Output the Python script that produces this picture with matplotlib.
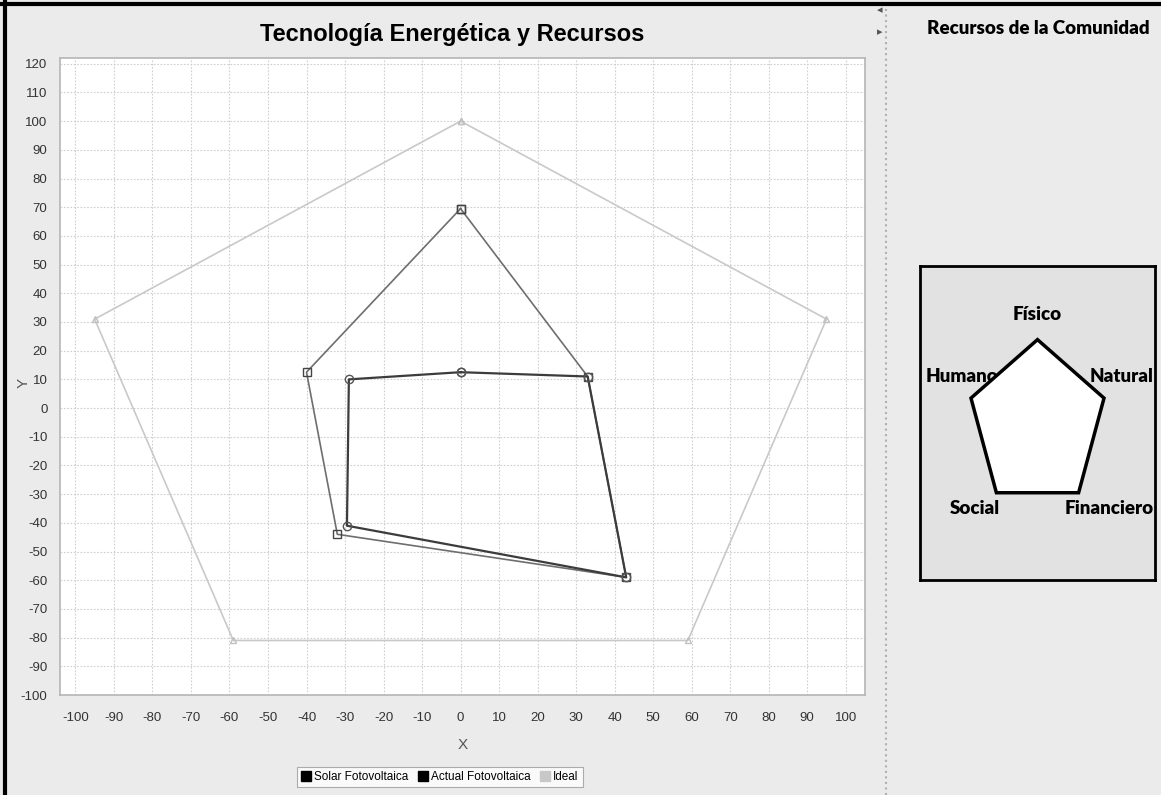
import numpy as np
import matplotlib
matplotlib.use("Agg")
import matplotlib.pyplot as plt
from matplotlib.lines import Line2D
from matplotlib.patches import Polygon

plt.rcParams['font.family'] = ['Liberation Sans', 'DejaVu Sans']
plt.rcParams['axes.unicode_minus'] = False

# series data (X, Y) - polygons closed by repeating the first point
solar_x = [0, 33, 43, -32, -40, 0]
solar_y = [69.5, 11, -59, -44, 12.5, 69.5]

actual_x = [0, 33, 43, -29.5, -29, 0]
actual_y = [12.5, 11, -59, -41, 10, 12.5]

ideal_x = [0, 95, 59, -59, -95, 0]
ideal_y = [100, 31, -81, -81, 31, 100]

series_names = ['Solar Fotovoltaica', 'Actual Fotovoltaica', 'Ideal']

# right panel diagram
recursos = ['Físico', 'Natural', 'Financiero', 'Social', 'Humano']

x_ticks = list(range(-100, 101, 10))
y_ticks = list(range(-100, 121, 10))

bg = '#ebebeb'
fig = plt.figure(figsize=(11.61, 7.95), dpi=100, facecolor=bg)

# main chart
ax = fig.add_axes([60 / 1161, 1 - 695 / 795, 805 / 1161, 637 / 795])
ax.set_facecolor('white')
ax.plot(ideal_x, ideal_y, color='#c9c9c9', lw=1.2, marker='^', ms=5,
        mfc='none', mec='#c0c0c0', label=series_names[2], zorder=2)
ax.plot(solar_x, solar_y, color='#6e6e6e', lw=1.2, marker='s', ms=6,
        mfc='none', mec='#444444', label=series_names[0], zorder=3)
ax.plot(actual_x, actual_y, color='#3c3c3c', lw=1.6, marker='o', ms=6,
        mfc='none', mec='#555555', label=series_names[1], zorder=4)

ax.set_xlim(-104, 105)
ax.set_ylim(-100, 122)
ax.set_xticks(x_ticks)
ax.set_yticks(y_ticks)
ax.grid(True, color='#cfcfcf', ls=(0, (1.5, 1.5)), lw=0.8)
ax.set_axisbelow(True)
ax.tick_params(length=0, labelsize=9.5, labelcolor='#333333', pad=9)
ax.tick_params(axis='x', pad=12)
for s in ax.spines.values():
    s.set_color('#b5b5b5')
    s.set_linewidth(1.2)
ax.set_xlabel('X', fontsize=11, color='#555555', labelpad=10)
ax.set_ylabel('Y', fontsize=11, color='#555555')
ax.yaxis.set_label_coords(-0.036, 0.49)

fig.text(452 / 1161, 1 - 35 / 795, 'Tecnología Energética y Recursos',
         ha='center', va='center', fontsize=17, fontweight='bold')

handles = [Line2D([], [], ls='none', marker='s', ms=7, color='black'),
           Line2D([], [], ls='none', marker='s', ms=7, color='black'),
           Line2D([], [], ls='none', marker='s', ms=7, color='#c8c8c8')]
leg = fig.legend(handles, series_names, loc='center', bbox_to_anchor=(440 / 1161, 1 - 777 / 795),
                 ncol=3, fontsize=8.5, frameon=True, handlelength=0.8, handletextpad=0.3,
                 columnspacing=0.8, borderpad=0.35, fancybox=False)
leg.get_frame().set_edgecolor('#999999')
leg.get_frame().set_linewidth(0.8)

# window borders and divider
fig.add_artist(Line2D([0, 1], [1 - 4 / 795] * 2, color='black', lw=3, transform=fig.transFigure))
fig.add_artist(Line2D([5 / 1161] * 2, [0, 1], color='black', lw=3, transform=fig.transFigure))
fig.add_artist(Line2D([886 / 1161] * 2, [0, 1 - 6 / 795], color='#b0b0b0', lw=1.5, ls=':',
                      transform=fig.transFigure))
fig.text(880 / 1161, 1 - 10 / 795, '◂', fontsize=8, ha='center', va='center', family='DejaVu Sans', color='#555555')
fig.text(880 / 1161, 1 - 32 / 795, '▸', fontsize=8, ha='center', va='center', family='DejaVu Sans', color='#555555')

# right panel
fig.text(1038 / 1161, 1 - 28 / 795, 'Recursos de la Comunidad', ha='center', va='center',
         fontsize=13.5, fontweight='heavy', family=['Lato', 'DejaVu Sans'])

ax2 = fig.add_axes([920 / 1161, 1 - 580 / 795, 235 / 1161, 314 / 795])
ax2.set_facecolor('#e2e2e2')
ax2.set_xlim(-1.68, 1.68)
ax2.set_ylim(-1.84, 1.87)
ax2.set_xticks([])
ax2.set_yticks([])
for s in ax2.spines.values():
    s.set_color('black')
    s.set_linewidth(2)

ang = np.deg2rad(90 - 72 * np.arange(5))
px = np.cos(ang)
py = np.sin(ang)
ax2.add_patch(Polygon(np.column_stack([px, py]), closed=True, facecolor='white',
                      edgecolor='black', lw=2.5, zorder=2))
label_pos = [(0, 1.3), (1.2, 0.57), (1.03, -1.0), (-0.9, -1.0), (-1.08, 0.57)]
for name, (lx, ly) in zip(recursos, label_pos):
    ax2.text(lx, ly, name, ha='center', va='center', fontsize=13.5, fontweight='heavy',
             family=['Lato', 'DejaVu Sans'], zorder=1)

fig.savefig('out.png', dpi=100, facecolor=bg)
